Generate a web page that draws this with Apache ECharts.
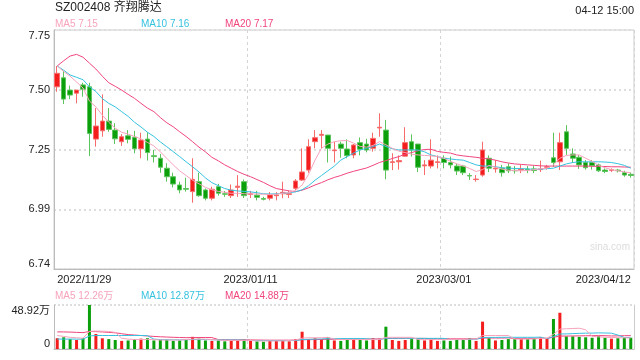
<!DOCTYPE html>
<html><head><meta charset="utf-8">
<script src="https://cdn.jsdelivr.net/npm/echarts@6/dist/echarts.min.js"></script>
<style>html,body{margin:0;padding:0;background:#fff}#c{width:640px;height:360px}</style>
</head><body><div id="c"></div>
<script>
const dates = ["2022/11/29","2022/11/30","2022/12/01","2022/12/02","2022/12/05","2022/12/06","2022/12/07","2022/12/08","2022/12/09","2022/12/12","2022/12/13","2022/12/14","2022/12/15","2022/12/16","2022/12/19","2022/12/20","2022/12/21","2022/12/22","2022/12/23","2022/12/26","2022/12/27","2022/12/28","2022/12/29","2022/12/30","2023/01/03","2023/01/04","2023/01/05","2023/01/06","2023/01/09","2023/01/10","2023/01/11","2023/01/12","2023/01/13","2023/01/16","2023/01/17","2023/01/18","2023/01/19","2023/01/20","2023/01/30","2023/01/31","2023/02/01","2023/02/02","2023/02/03","2023/02/06","2023/02/07","2023/02/08","2023/02/09","2023/02/10","2023/02/13","2023/02/14","2023/02/15","2023/02/16","2023/02/17","2023/02/20","2023/02/21","2023/02/22","2023/02/23","2023/02/24","2023/02/27","2023/02/28","2023/03/01","2023/03/02","2023/03/03","2023/03/06","2023/03/07","2023/03/08","2023/03/09","2023/03/10","2023/03/13","2023/03/14","2023/03/15","2023/03/16","2023/03/17","2023/03/20","2023/03/21","2023/03/22","2023/03/23","2023/03/24","2023/03/27","2023/03/28","2023/03/29","2023/03/30","2023/03/31","2023/04/03","2023/04/04","2023/04/06","2023/04/07","2023/04/10","2023/04/11","2023/04/12"];
const openP = [7.51,7.548,7.496,7.483,7.518,7.51,7.289,7.324,7.365,7.327,7.278,7.303,7.297,7.248,7.289,7.219,7.208,7.166,7.13,7.095,7.08,7.067,7.109,7.074,7.039,7.088,7.058,7.05,7.085,7.109,7.055,7.052,7.038,7.039,7.05,7.058,7.055,7.081,7.116,7.158,7.278,7.305,7.306,7.24,7.268,7.247,7.222,7.274,7.268,7.25,7.336,7.327,7.19,7.193,7.217,7.278,7.268,7.176,7.175,7.19,7.208,7.19,7.175,7.175,7.135,7.118,7.137,7.208,7.163,7.166,7.172,7.157,7.158,7.162,7.163,7.16,7.17,7.21,7.193,7.32,7.226,7.212,7.19,7.19,7.18,7.158,7.157,7.158,7.147,7.14];
const closeP = [7.567,7.458,7.475,7.496,7.50,7.313,7.344,7.365,7.33,7.29,7.299,7.288,7.248,7.285,7.232,7.215,7.17,7.13,7.099,7.074,7.077,7.119,7.05,7.039,7.077,7.06,7.056,7.074,7.09,7.05,7.058,7.043,7.035,7.053,7.053,7.064,7.058,7.112,7.15,7.257,7.295,7.309,7.25,7.243,7.25,7.219,7.264,7.246,7.243,7.292,7.339,7.158,7.193,7.198,7.274,7.243,7.17,7.18,7.2,7.193,7.19,7.18,7.154,7.147,7.133,7.12,7.243,7.166,7.166,7.147,7.155,7.155,7.162,7.158,7.156,7.163,7.172,7.19,7.274,7.25,7.208,7.18,7.168,7.176,7.155,7.152,7.159,7.155,7.137,7.135];
const lowP = [7.489,7.437,7.458,7.44,7.468,7.217,7.257,7.299,7.32,7.268,7.26,7.271,7.229,7.208,7.198,7.19,7.147,7.109,7.085,7.06,7.067,7.02,7.045,7.03,7.03,7.05,7.045,7.04,7.045,7.04,7.04,7.03,7.03,7.03,7.03,7.039,7.04,7.074,7.112,7.147,7.25,7.25,7.19,7.19,7.21,7.208,7.208,7.22,7.233,7.236,7.299,7.119,7.158,7.16,7.215,7.215,7.15,7.137,7.165,7.165,7.165,7.165,7.137,7.137,7.116,7.109,7.13,7.15,7.147,7.13,7.145,7.143,7.145,7.145,7.145,7.15,7.16,7.172,7.158,7.222,7.19,7.163,7.16,7.16,7.15,7.145,7.15,7.148,7.13,7.126];
const highP = [7.598,7.577,7.515,7.496,7.527,7.527,7.42,7.478,7.42,7.356,7.31,7.327,7.324,7.316,7.318,7.243,7.226,7.187,7.147,7.109,7.126,7.208,7.147,7.08,7.088,7.1,7.07,7.097,7.137,7.118,7.07,7.07,7.045,7.065,7.065,7.109,7.07,7.12,7.25,7.288,7.327,7.327,7.306,7.278,7.278,7.288,7.268,7.296,7.29,7.316,7.398,7.37,7.229,7.22,7.339,7.309,7.268,7.2,7.288,7.22,7.22,7.215,7.185,7.18,7.145,7.137,7.278,7.22,7.2,7.18,7.187,7.175,7.18,7.175,7.175,7.198,7.18,7.316,7.316,7.348,7.25,7.222,7.2,7.2,7.185,7.165,7.165,7.163,7.155,7.148];
const ma5 = [7.598,7.575,7.555,7.53,7.505,7.45,7.425,7.39,7.36,7.335,7.318,7.31,7.3,7.29,7.275,7.26,7.235,7.208,7.18,7.155,7.135,7.115,7.1,7.085,7.075,7.068,7.064,7.06,7.06,7.058,7.057,7.057,7.056,7.055,7.056,7.06,7.063,7.072,7.095,7.14,7.2,7.25,7.268,7.278,7.282,7.283,7.272,7.258,7.255,7.262,7.278,7.265,7.25,7.238,7.232,7.225,7.222,7.22,7.218,7.215,7.208,7.195,7.185,7.175,7.165,7.152,7.16,7.178,7.17,7.162,7.158,7.156,7.155,7.156,7.16,7.163,7.166,7.18,7.208,7.22,7.222,7.222,7.208,7.195,7.178,7.168,7.16,7.155,7.15,7.147];
const ma10 = [7.598,7.58,7.56,7.55,7.54,7.51,7.49,7.46,7.44,7.425,7.405,7.385,7.36,7.34,7.318,7.30,7.277,7.257,7.236,7.215,7.193,7.172,7.15,7.125,7.105,7.092,7.08,7.073,7.07,7.068,7.066,7.062,7.058,7.057,7.058,7.06,7.062,7.066,7.075,7.092,7.115,7.135,7.155,7.175,7.2,7.215,7.23,7.243,7.25,7.257,7.268,7.258,7.248,7.243,7.243,7.243,7.243,7.235,7.222,7.215,7.208,7.205,7.202,7.2,7.19,7.18,7.175,7.175,7.172,7.168,7.166,7.165,7.164,7.163,7.161,7.162,7.164,7.166,7.175,7.184,7.19,7.193,7.193,7.193,7.193,7.192,7.19,7.185,7.178,7.166];
const ma20 = [7.598,7.62,7.64,7.647,7.635,7.61,7.585,7.555,7.527,7.512,7.496,7.478,7.461,7.44,7.42,7.405,7.38,7.358,7.341,7.32,7.30,7.278,7.255,7.235,7.212,7.197,7.18,7.166,7.152,7.14,7.13,7.118,7.106,7.092,7.08,7.075,7.07,7.067,7.073,7.083,7.095,7.105,7.117,7.127,7.135,7.145,7.153,7.16,7.167,7.178,7.19,7.198,7.207,7.215,7.225,7.232,7.24,7.245,7.246,7.237,7.233,7.23,7.222,7.218,7.215,7.212,7.208,7.205,7.2,7.193,7.188,7.184,7.182,7.18,7.178,7.176,7.175,7.175,7.175,7.175,7.175,7.175,7.175,7.174,7.174,7.173,7.172,7.172,7.171,7.17];
const vol = [12,13,11,10,12,48.92,16.7,11.9,11,10,9,9.5,11,11.5,12,9.5,10,10.5,9,9.5,10,13.5,11.5,9.5,9,9.5,8.5,9.5,10,10.5,9,8.5,8,9,9.5,10,8.5,11,19.2,11.1,12,11,13,9.5,9,10.5,11,10,9.5,12,11.5,24.8,10,9,10,11,12,9.5,11,9,9.5,9,10,10.5,12.2,9,30.4,12,9.5,10,11,11,11,11,12,13,12,33.4,40.3,14,14,13.5,13,12.5,14.4,12.5,11.5,12,12.8,12.5];
const volMa5 = [15,14,13,12.5,12,19.6,20,19.8,19.5,18.5,12,11,10.5,10.5,10.5,10.5,10,10,10,10,10.5,11,11,11,10.5,10,9.5,9.5,9.5,9.5,9.5,9,9,9,9,9,9.5,10,12,12.5,12.5,12.5,13,11,10.5,10.5,10.5,10.5,10.5,10.5,10.5,13,13,13,13,13,10.5,10.5,10.5,10.5,10.5,10.5,10.5,10.5,11,11,15,15,15,15,15,11,11,11,11.2,11.8,12,16.3,22.1,22.5,22.8,23.1,21.4,14,13.5,13.1,12.8,12.6,12.4,12.26];
const volMa10 = [11,11,11,11,11,14.5,15,15,15,15,15,15,15,15,14.8,11,10.5,10.3,10.2,10.2,10.3,10.5,10.5,10.5,10.3,10.2,10,10,10,9.8,9.5,9.3,9.3,9.3,9.3,9.3,9.3,9.5,10.5,10.8,11,11.2,11.5,11.5,11.6,11.6,11.7,11.7,11.4,10.8,10.6,12,12,12,12,11.8,11.8,11.8,11.8,11.8,11.8,10.5,10.5,10.5,10.7,10.8,12.8,12.9,12.9,13,13,13,13,13,13,13.2,11.5,13.8,16.7,16.8,17.1,17.4,17.6,17.7,17.9,17.8,17.6,15.5,12.8,12.87];
const volMa20 = [19,19,18.8,18.5,18.2,19.5,19.3,19,18.5,18,17,16,15.5,15,14.5,14,13.6,13.3,13,12.8,12.6,12.7,12.8,12.8,12.7,10.5,10.3,10.2,10.2,10.2,10.1,10,9.9,9.8,9.8,9.8,9.8,9.9,10.3,10.4,10.5,10.6,10.8,10.8,10.9,10.9,11,11.1,11.1,11.1,11.2,11.6,11.7,11.8,11.9,11.8,11.8,11.8,11.6,11.5,11.5,11.3,11.3,11.3,11.3,11.2,12.2,12.2,12.2,12.2,12.3,11.8,11.8,11.8,11.8,11.9,11.9,13,14.4,14.4,14.5,14.6,14.7,14.8,14.9,14.8,14.5,14.6,14.8,14.88];
const priceTicks = {min: 6.74, max: 7.75, interval: 0.2525};
const volTicks = {min: 0, max: 48.92};

const RED = '#f31d1d', GREEN = '#0ba00b';
const C5 = '#f7a3bb', C10 = '#36c2df', C20 = '#f0457c';
const kData = dates.map((d,i)=>[openP[i], closeP[i], lowP[i], highP[i]]);
const volData = vol.map((v,i)=>({value:v, itemStyle:{color: closeP[i] >= openP[i] ? RED : GREEN}}));
const showIdx = i => i===0 || i===30 || i===60 || i===89;
const splitIdx = i => i===30 || i===60;

const chart = echarts.init(document.getElementById('c'), null, {renderer:'canvas'});
const font = 'Arial, "Liberation Sans", "Noto Sans CJK SC", sans-serif';
const line = (data, color, xi, yi) => ({type:'line', data, symbol:'none', lineStyle:{color, width:1}, xAxisIndex:xi, yAxisIndex:yi});
chart.setOption({
  animation:false,
  textStyle:{fontFamily:font},
  grid:[
    {left:54, right:6, top:30, height:239, show:true, borderColor:'#cccccc', borderWidth:1},
    {left:54, right:6, top:305, height:44}
  ],
  xAxis:[
    {type:'category', gridIndex:0, data:dates, boundaryGap:true,
     axisLine:{lineStyle:{color:'#bbbbbb'}}, axisTick:{show:false},
     axisLabel:{interval:(i)=>showIdx(i), color:'#222', fontSize:11, margin:5, alignMinLabel:'left', alignMaxLabel:'right', formatter:v=>v},
     splitLine:{show:true, interval:(i)=>splitIdx(i), lineStyle:{color:'#d4d4d4', type:[3,3]}}},
    {type:'category', gridIndex:1, data:dates, boundaryGap:true,
     axisLine:{lineStyle:{color:'#bbbbbb'}}, axisTick:{show:false}, axisLabel:{show:false},
     splitLine:{show:true, interval:(i)=>splitIdx(i), lineStyle:{color:'#d4d4d4', type:[3,3]}}}
  ],
  yAxis:[
    {type:'value', gridIndex:0, min:priceTicks.min, max:priceTicks.max, interval:priceTicks.interval,
     axisLine:{show:true, lineStyle:{color:'#bbbbbb'}}, axisTick:{show:false},
     axisLabel:{color:'#222', fontSize:11, margin:4, formatter:v=>v.toFixed(2), verticalAlignMaxLabel:'top', verticalAlignMinLabel:'bottom'},
     splitLine:{show:true, lineStyle:{color:'#dddddd', type:[2,3], width:2}}},
    {type:'value', gridIndex:1, min:volTicks.min, max:volTicks.max, interval:volTicks.max,
     axisLine:{show:true, lineStyle:{color:'#bbbbbb'}}, axisTick:{show:false},
     axisLabel:{color:'#222', fontSize:11, margin:4, formatter:v=> v===0?'0':v.toFixed(2)+'万', verticalAlignMaxLabel:'top', verticalAlignMinLabel:'bottom'},
     splitLine:{show:true, lineStyle:{color:'#dddddd', type:[2,2], width:2}}},
    {type:'value', gridIndex:1, position:'right', min:volTicks.min, max:volTicks.max,
     axisLine:{show:true, lineStyle:{color:'#cccccc'}}, axisTick:{show:false}, axisLabel:{show:false}, splitLine:{show:false}}
  ],
  series:[
    {type:'candlestick', xAxisIndex:0, yAxisIndex:0, data:kData, barWidth:5,
     itemStyle:{color:RED, color0:GREEN, borderColor:'#f76b6b', borderColor0:'#5cc45c', borderWidth:1}},
    line(ma20, C20, 0, 0), line(ma10, C10, 0, 0), line(ma5, C5, 0, 0),
    {type:'bar', xAxisIndex:1, yAxisIndex:1, data:volData, barWidth:3},
    line(volMa20, C20, 1, 1), line(volMa10, C10, 1, 1), line(volMa5, C5, 1, 1)
  ],
  graphic:[
    {type:'text', left:55, top:2, style:{text:'SZ002408 齐翔腾达', font:'12px '+font, fill:'#222'}},
    {type:'text', right:6, top:5, style:{text:'04-12 15:00', font:'11px '+font, fill:'#222'}},
    {type:'text', left:55, top:19, style:{text:'MA5 7.15', font:'10px '+font, fill:C5}},
    {type:'text', left:141, top:19, style:{text:'MA10 7.16', font:'10px '+font, fill:C10}},
    {type:'text', left:225, top:19, style:{text:'MA20 7.17', font:'10px '+font, fill:C20}},
    {type:'text', left:55, top:291, style:{text:'MA5 12.26万', font:'10px '+font, fill:C5}},
    {type:'text', left:141, top:291, style:{text:'MA10 12.87万', font:'10px '+font, fill:C10}},
    {type:'text', left:225, top:291, style:{text:'MA20 14.88万', font:'10px '+font, fill:C20}},
    {type:'text', right:10, top:242, style:{text:'sina.com', font:'10px '+font, fill:'#dcdcdc'}}
  ]
});
</script></body></html>
